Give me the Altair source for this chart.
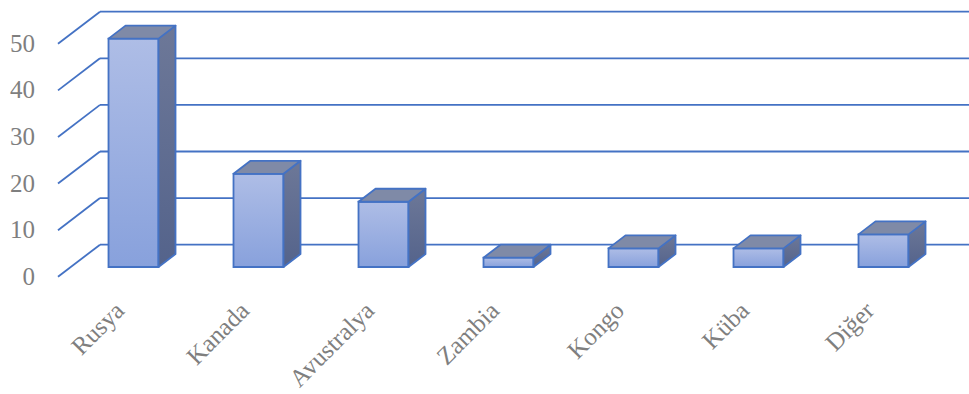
import altair as alt
import pandas as pd

# ---- data ----
categories = ["Rusya", "Kanada", "Avustralya", "Zambia", "Kongo", "Küba", "Diğer"]
values = [49, 20, 14, 2, 4, 4, 7]
tick_values = [0, 10, 20, 30, 40, 50]

# ---- pseudo-3D geometry (in scale units) ----
HALF = 0.2          # half bar width (x units)
DX = 0.136          # bar depth, x
DY = 2.79           # bar depth, y
FRONT_X = -0.5 - 0.104
FRONT_Y = -2.1
BACK_X = -0.5 + 0.232
BACK_Y = 4.79
X_END = 7.0

BLUE = "#4472C4"
LABEL = "#7f7f7f"
FONT = "Liberation Serif"
SW = 1.8

xs = alt.Scale(domain=[-0.5, 6.5], nice=False, zero=False)
ys = alt.Scale(domain=[0, 50], nice=False, zero=False)

bars = pd.DataFrame({"cat": categories, "v": values, "i": list(range(len(categories)))})
bars["x1"] = bars["i"] - HALF
bars["x2"] = bars["i"] + HALF

side_rows, top_rows = [], []
for i, (c, v) in enumerate(zip(categories, values)):
    side_rows += [dict(cat=c, x=i + HALF, y=v, y2=0),
                  dict(cat=c, x=i + HALF + DX, y=v + DY, y2=DY)]
    top_rows += [dict(cat=c, x=i - HALF, y=v, y2=v),
                 dict(cat=c, x=i - HALF + DX, y=v + DY, y2=v),
                 dict(cat=c, x=i + HALF, y=v + DY, y2=v),
                 dict(cat=c, x=i + HALF + DX, y=v + DY, y2=v + DY)]
side = pd.DataFrame(side_rows)
top = pd.DataFrame(top_rows)

ticks = pd.DataFrame({"t": tick_values})
ticks["fx"] = FRONT_X
ticks["fy"] = ticks["t"] + FRONT_Y
ticks["bx"] = BACK_X
ticks["by"] = ticks["t"] + BACK_Y
ticks["ex"] = X_END
ticks["lab"] = ticks["t"].astype(str)

label_expr = "[" + ",".join("'" + c + "'" for c in categories) + "][datum.value]"
x_axis = alt.Axis(values=list(range(len(categories))), labelExpr=label_expr,
                  domain=False, ticks=False, tickSize=0, grid=False, title=None,
                  labelAngle=-45, labelAlign="right", labelBaseline="middle",
                  labelPadding=39, labelOffset=-14, labelFont=FONT,
                  labelFontSize=25, labelColor=LABEL, labelFlush=False,
                  labelOverlap=False, labelBound=False)

grid = alt.Chart(ticks).mark_rule(color=BLUE, strokeWidth=SW).encode(
    x=alt.X("bx:Q", scale=xs, axis=x_axis), x2="ex:Q",
    y=alt.Y("by:Q", scale=ys, axis=None), y2="by:Q")

diag = alt.Chart(ticks).mark_rule(color=BLUE, strokeWidth=SW).encode(
    x=alt.X("fx:Q", scale=xs, axis=x_axis), x2="bx:Q",
    y=alt.Y("fy:Q", scale=ys, axis=None), y2="by:Q")

ylab = alt.Chart(ticks).mark_text(align="right", baseline="middle", dx=-23,
                                  font=FONT, fontSize=25, color=LABEL).encode(
    x=alt.X("fx:Q", scale=xs, axis=x_axis),
    y=alt.Y("fy:Q", scale=ys, axis=None),
    text="lab:N")

front = alt.Chart(bars).mark_rect(
    color=alt.Gradient(gradient="linear", x1=0, y1=0, x2=0, y2=1,
                       stops=[alt.GradientStop(color="#aebde6", offset=0),
                              alt.GradientStop(color="#88a1dc", offset=1)]),
    stroke=BLUE, strokeWidth=SW).encode(
    x=alt.X("x1:Q", scale=xs, axis=x_axis),
    x2="x2:Q",
    y=alt.Y("v:Q", scale=ys, axis=None), y2=alt.datum(0))

side_face = alt.Chart(side).mark_area(
    color=alt.Gradient(gradient="linear", x1=0, y1=0, x2=0, y2=1,
                       stops=[alt.GradientStop(color="#6d7898", offset=0),
                              alt.GradientStop(color="#54638b", offset=1)]),
    stroke=BLUE, strokeWidth=SW, strokeJoin="round").encode(
    x=alt.X("x:Q", scale=xs, axis=x_axis),
    y=alt.Y("y:Q", scale=ys, axis=None), y2="y2:Q",
    detail="cat:N")

top_face = alt.Chart(top).mark_area(
    color="#7f8aa7", stroke=BLUE, strokeWidth=SW, strokeJoin="round").encode(
    x=alt.X("x:Q", scale=xs, axis=x_axis),
    y=alt.Y("y:Q", scale=ys, axis=None), y2="y2:Q",
    detail="cat:N")

chart = alt.layer(grid, diag, ylab, front, side_face, top_face).properties(
    width=875, height=233,
    padding={"left": 71, "top": 34, "right": 23, "bottom": 127},
    autosize=alt.AutoSizeParams(type="none"),
    background="white",
).configure_view(stroke=None)

chart.save("out.html", embed_options={"renderer": "svg", "actions": False})
